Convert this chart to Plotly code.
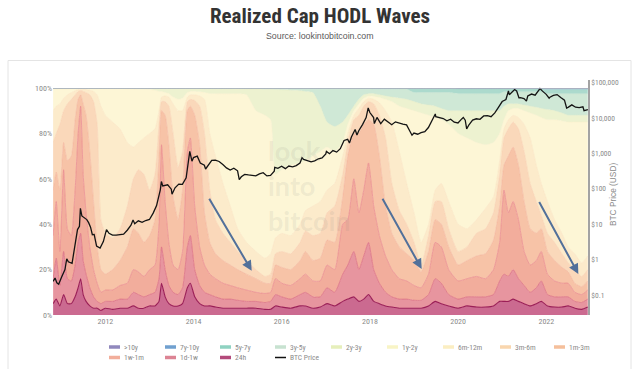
import plotly.graph_objects as go

# ---------------- data ----------------
dates = ["2010-10-25","2010-11-20","2010-12-20","2011-01-20","2011-02-20","2011-03-25","2011-04-25","2011-05-20","2011-06-10","2011-07-01","2011-07-25","2011-08-25","2011-09-25","2011-10-25","2011-11-25",
         "2012-01-01","2012-03-01","2012-05-01","2012-07-01","2012-08-20","2012-10-01","2012-11-15",
         "2013-01-01","2013-02-15","2013-03-20","2013-04-10","2013-05-10","2013-06-10","2013-07-15","2013-08-25","2013-10-01","2013-11-10","2013-12-05",
         "2014-01-10","2014-02-20","2014-04-01","2014-05-15","2014-07-01","2014-09-01","2014-11-01",
         "2015-01-01","2015-03-15","2015-06-01","2015-08-15","2015-10-01","2015-11-10",
         "2016-01-01","2016-03-15","2016-06-01","2016-07-15","2016-09-15","2016-11-15",
         "2017-01-10","2017-03-15","2017-05-20","2017-07-01","2017-08-20","2017-10-01","2017-11-10","2017-12-20",
         "2018-02-01","2018-03-20","2018-05-10","2018-07-01","2018-09-01","2018-11-01",
         "2019-01-01","2019-03-01","2019-05-01","2019-06-25","2019-08-15","2019-10-15",
         "2020-01-01","2020-03-15","2020-06-01","2020-08-15","2020-10-20","2020-12-10",
         "2021-01-15","2021-02-20","2021-04-01","2021-05-15","2021-07-01","2021-08-20","2021-10-10","2021-11-20",
         "2022-01-10","2022-03-10","2022-05-10","2022-07-01","2022-08-25","2022-10-20","2022-12-10"]

# cumulative share of realized cap (%) at the top of each age band
cum_24h = [5,7,4,9,5,5,8,12,16,9,6,4,3,3,2,
           3,2.5,3,3,4,3,3,
           4,4,6,14,8,5,4,4,5,12,14,
           8,5,4,4,3.5,3,3,
           3,3,3,2.5,2.5,4,
           3.5,3,4,4,3,3.5,
           5,4,6,7,8,6,7,9,
           6,5,4,3.5,3,3,
           3,3,4,6,5,4,
           3,4,3.5,3.5,4,6,
           6,6,7,6,5,4,5,6,
           4,3.5,3.5,4,3,2.5,3.5]
cum_1d_1w = [16,25,13,28,16,15,22,32,36,24,18,12,8,6,5,
             6,6,7,7,10,9,8,
             9,10,16,30,20,13,10,9,12,30,35,
             20,13,10,9,8,7,7,
             6.5,6,6,5.5,6,9,
             8,7,9,10,8,8,
             12,10,18,22,28,20,26,32,
             20,14,10,8,7,7,
             6.5,6.5,9,16,14,9,
             7,8,8,8,9,15,
             18,17,20,16,13,10,12,15,
             9,8,8,8,6,5.5,7]
cum_1w_1m = [35,50,28,64,38,35,55,80,92,62,45,30,20,14,10,
             11,11,13,14,20,19,17,
             20,22,40,75,50,32,22,20,28,72,78,
             48,30,22,18,16,14,13,
             12,11,10,9.5,10,16,
             14,13,16,18,15,15,
             22,20,40,42,60,45,55,67,
             48,35,26,20,16,15,
             13,12,18,32,30,20,
             15,16,17,16,20,32,
             55,45,50,42,28,22,24,28,
             18,15,14,14,10,9,11]
cum_1m_3m = [55,63,55,76,68,70,86,95,97,93,88,72,50,30,20,
             18,20,24,30,38,36,32,
             35,42,70,90,88,75,52,42,55,90,92,
             88,75,45,32,27,24,22,
             20,18,16,14,14,22,
             21,20,24,28,24,25,
             33,32,52,70,80,80,84,86,
             84,70,48,36,30,27,
             24,19,28,42,40,30,
             22,24,26,27,33,48,
             66,70,74,66,50,38,36,38,
             28,24,21,19,14,12.5,15]
cum_3m_6m = [76,80,84,90,93,95,97,98.5,99,98.5,98,97,94,84,42,
             36,34,38,48,60,64,62,
             55,62,84,94,94,92,80,65,72,94,95,
             94.5,92,80,55,42,36,32,
             28,24,20,17,18,27,
             28,27,32,37,35,36,
             45,48,62,76,86,88,92,94,
             93,88,78,58,46,40,
             32,22,35,50,50,38,
             28,30,36,38,45,62,
             78,82,85,82,72,58,50,44,
             36,32,27,23,20,17,20]
cum_6m_12m = [90,92,93,95.5,97,98,98.8,99.3,99.5,99.4,99.3,99,98.5,97,92,
              88,85,82,76,74,76,78,
              80,82,90,96,96.5,96,93,90,90,96,97,
              97,96.5,95,80,70,58,48,
              38,32,28,25,27,34,
              36,35,40,46,48,50,
              55,58,70,80,88,91,94,95.5,
              95,93.5,90,85,72,58,
              45,32,40,55,58,50,
              40,38,42,47,52,68,
              82,86,88,87,84,78,66,58,
              50,42,36,30,27,23,26]
cum_1y_2y = [99.7,99.7,99.7,99.7,99.7,99.8,99.8,99.8,99.8,99.8,99.8,99.8,99.8,99.8,99.8,
             99.8,99.8,99.8,99.7,99.6,99.5,99.4,
             99.3,99,98.5,98.5,98,97.5,96,95,95.5,98,98.5,
             98.5,98.3,98,97.5,97.5,97.5,97.5,
             97.5,97,90,88,86,62,
             64,66,67,68,70,72,
             74,72,76,84,90,93,95.5,96.5,
             96.3,95.8,95,94,92,91,
             90,89,88,87,86,84,
             80,78,76,75,76,80,
             86,90,91,91,90,89,88,87,
             86,86,85.5,85,85,85,85]
cum_2y_3y = [99.9,99.9,99.9,99.9,99.9,99.9,99.9,99.9,99.9,99.9,99.9,99.9,99.9,99.9,99.9,
             99.9,99.9,99.9,99.9,99.9,99.9,99.9,
             99.9,99.9,99.9,99.9,99.8,99.8,99.8,99.8,99.8,99.8,99.8,
             99.8,99.8,99.7,99.7,99.7,99.7,99.7,
             99.7,99.6,99.6,99.5,99.4,99.3,
             99.2,99,98.8,98.5,98,92,
             85,83,85,88,92,95,97,97.5,
             97.5,97,96.5,96,95.5,95,
             94,93,92.5,92,91,90,
             90,90,90,90,90,90,
             92,93,93,93,92.5,92,91.5,91,
             90.5,90,89,88,88,88,88]
cum_3y_5y = [100,100,100,100,100,100,100,100,100,100,100,100,100,100,100,
             100,100,100,100,100,100,100,
             100,100,100,100,100,100,100,100,100,100,100,
             100,100,100,100,100,100,100,
             100,100,100,100,100,99.8,
             99.8,99.8,99.8,99.8,99.8,99.8,
             99.8,99.8,99.8,99.8,99.8,99.8,99.8,99.8,
             99.5,99.5,99.5,99.5,99.5,99.5,
             98,98,98,98,98,98,
             97.5,97.5,97.5,97.5,97.5,97.5,
             98.3,98.3,98.3,98.3,98.3,98.3,98.3,98.3,
             97.5,97.5,97.5,97.5,97.5,97.5,97.5]
cum_5y_7y = [100,100,100,100,100,100,100,100,100,100,100,100,100,100,100,
             100,100,100,100,100,100,100,
             100,100,100,100,100,100,100,100,100,100,100,
             100,100,100,100,100,100,100,
             100,100,100,100,100,100,
             100,100,100,100,100,100,
             100,100,100,100,100,100,100,100,
             99.9,99.9,99.9,99.9,99.9,99.9,
             99.8,99.8,99.8,99.8,99.8,99.8,
             99.6,99.6,99.6,99.6,99.6,99.6,
             99.6,99.6,99.6,99.6,99.6,99.6,99.6,99.6,
             99.3,99.3,99.3,99.3,99.3,99.3,99.3]
cum_7y_10y = [100,100,100,100,100,100,100,100,100,100,100,100,100,100,100,
              100,100,100,100,100,100,100,
              100,100,100,100,100,100,100,100,100,100,100,
              100,100,100,100,100,100,100,
              100,100,100,100,100,100,
              100,100,100,100,100,100,
              100,100,100,100,100,100,100,100,
              100,100,100,100,100,100,
              100,100,100,100,100,100,
              99.95,99.95,99.95,99.95,99.95,99.95,
              99.9,99.9,99.9,99.9,99.9,99.9,99.9,99.9,
              99.8,99.8,99.8,99.8,99.8,99.8,99.8]
stack_total = [100.0 for _ in dates]   # >10y band closes the stack at 100 %

price_dates = ["2010-10-25","2010-11-10","2010-11-25","2010-12-10","2010-12-31",
    "2011-01-31","2011-02-15","2011-02-28","2011-03-31","2011-04-30","2011-05-15","2011-05-31","2011-06-08","2011-06-20","2011-06-30","2011-07-15","2011-07-31","2011-08-15","2011-08-31","2011-09-15","2011-09-30","2011-10-20","2011-11-18","2011-12-15","2011-12-31",
    "2012-01-10","2012-01-31","2012-02-29","2012-03-31","2012-04-30","2012-05-31","2012-06-30","2012-07-31","2012-08-17","2012-08-31","2012-09-30","2012-10-31","2012-11-30","2012-12-31",
    "2013-01-31","2013-02-28","2013-03-31","2013-04-09","2013-04-20","2013-05-31","2013-06-30","2013-07-06","2013-07-31","2013-08-31","2013-09-30","2013-10-31","2013-11-30","2013-12-18","2013-12-31",
    "2014-01-31","2014-02-25","2014-03-31","2014-04-10","2014-04-30","2014-05-31","2014-06-30","2014-07-31","2014-08-31","2014-09-30","2014-10-31","2014-11-30","2014-12-31",
    "2015-01-14","2015-01-31","2015-02-28","2015-03-31","2015-04-30","2015-05-31","2015-06-30","2015-07-31","2015-08-31","2015-09-30","2015-10-31","2015-11-04","2015-11-30","2015-12-31",
    "2016-01-31","2016-02-29","2016-03-31","2016-04-30","2016-05-31","2016-06-17","2016-06-30","2016-07-31","2016-08-31","2016-09-30","2016-10-31","2016-11-30","2016-12-31",
    "2017-01-05","2017-01-31","2017-02-28","2017-03-31","2017-04-30","2017-05-31","2017-06-30","2017-07-15","2017-07-31","2017-08-31","2017-09-15","2017-09-30","2017-10-31","2017-11-30","2017-12-17","2017-12-31",
    "2018-01-31","2018-02-06","2018-02-28","2018-03-31","2018-04-30","2018-05-31","2018-06-30","2018-07-31","2018-08-31","2018-09-30","2018-10-31","2018-11-30","2018-12-15","2018-12-31",
    "2019-01-31","2019-02-28","2019-03-31","2019-04-30","2019-05-31","2019-06-26","2019-06-30","2019-07-31","2019-08-31","2019-09-30","2019-10-31","2019-11-30","2019-12-31",
    "2020-01-31","2020-02-13","2020-02-29","2020-03-12","2020-03-31","2020-04-30","2020-05-31","2020-06-30","2020-07-31","2020-08-31","2020-09-30","2020-10-31","2020-11-30","2020-12-31",
    "2021-01-31","2021-02-21","2021-02-28","2021-03-31","2021-04-13","2021-04-30","2021-05-19","2021-05-31","2021-06-30","2021-07-20","2021-07-31","2021-08-31","2021-09-30","2021-10-31","2021-11-09","2021-11-30","2021-12-31",
    "2022-01-24","2022-01-31","2022-02-28","2022-03-31","2022-04-30","2022-05-31","2022-06-18","2022-06-30","2022-07-31","2022-08-31","2022-09-30","2022-10-31","2022-11-09","2022-11-30","2022-12-11"]
price_usd = [0.24,0.30,0.22,0.20,0.30,
    0.52,1.05,0.86,0.78,3.5,7.0,8.7,28,17,16,14,13.4,11,8.2,5.0,5.1,2.4,2.1,3.2,4.7,
    7.0,5.5,4.9,4.9,5.0,5.2,6.7,9.3,13,10.2,12.4,11.2,12.6,13.5,
    20.4,33.4,93,160,120,129,97,70,106,135,133,204,1130,600,755,
    830,530,458,360,447,628,640,586,479,387,338,378,320,
    180,217,254,244,236,230,263,284,230,236,314,400,377,430,
    368,437,416,448,531,750,673,624,575,609,700,742,964,
    1130,970,1190,1080,1350,2300,2480,1950,2875,4700,3300,4340,6470,10200,19100,14150,
    10200,6900,10300,6920,9240,7500,6400,7730,7030,6630,6320,4020,3250,3740,
    3460,3850,4100,5350,8570,12900,10800,10100,9600,8300,9200,7570,7200,
    9350,10300,8600,4900,6400,8630,9450,9140,11350,11650,10780,13800,19700,29000,
    33100,57500,45200,58800,63500,57700,37000,37300,35000,29800,41500,47100,43800,61300,67500,57000,46300,
    36000,38500,43200,45500,37700,31800,19000,19800,23300,20050,19400,20500,16000,17200,17100]
assert len(price_dates) == len(price_usd)

band_names = ["24h","1d-1w","1w-1m","1m-3m","3m-6m","6m-12m","1y-2y","2y-3y","3y-5y","5y-7y","7y-10y",">10y"]
band_tops = [cum_24h, cum_1d_1w, cum_1w_1m, cum_1m_3m, cum_3m_6m, cum_6m_12m, cum_1y_2y,
             cum_2y_3y, cum_3y_5y, cum_5y_7y, cum_7y_10y, stack_total]
for arr in band_tops:
    assert len(arr) == len(dates)

price_ticks = [0.1, 1, 10, 100, 1000, 10000, 100000]
price_tick_text = ["$0.1", "$1", "$10", "$100", "$1,000", "$10,000", "$100,000"]
pct_ticks = [0, 20, 40, 60, 80, 100]
pct_tick_text = ["0%", "20%", "40%", "60%", "80%", "100%"]

# ---------------- styling ----------------
fill_col = {"24h":"#cb6a90","1d-1w":"#e7959f","1w-1m":"#f2ad9c","1m-3m":"#f7c3a7","3m-6m":"#fad8ba",
            "6m-12m":"#fcebcb","1y-2y":"#fdf6d6","2y-3y":"#edf2d0","3y-5y":"#cfe8d6","5y-7y":"#acdacd",
            "7y-10y":"#93b8da",">10y":"#a9a0cf"}
line_col = {"24h":"#9b1f57","1d-1w":"#d8677e","1w-1m":"#e8878c","1m-3m":"#f1ad95","3m-6m":"#f6caaa",
            "6m-12m":"#f9e0bd","1y-2y":"#f8efca","2y-3y":"#e2ebc5","3y-5y":"#c2e0cd","5y-7y":"#9ed1c4",
            "7y-10y":"#86acd2",">10y":"#a9a0cf"}
line_w = {"24h":1.1,"1d-1w":0.7,"1w-1m":0.7}
legend_col = {">10y":"#9088bd","7y-10y":"#70a0cf","5y-7y":"#8fd2c1","3y-5y":"#c7e2d0","2y-3y":"#e6efbb",
              "1y-2y":"#f8f4c6","6m-12m":"#fbeec2","3m-6m":"#f9d6ae","1m-3m":"#f5bf9b","1w-1m":"#f2ae9b",
              "1d-1w":"#dc8494","24h":"#b34a7b"}

NARROW = "Liberation Sans Narrow, Arial Narrow, Roboto Condensed, DejaVu Sans Condensed, sans-serif"
TICK_GRAY = "#8a8a8a"

fig = go.Figure()
for i, (name, top) in enumerate(zip(band_names, band_tops)):
    fig.add_trace(go.Scatter(
        x=dates, y=top, name=name, mode="lines",
        line=dict(color=line_col[name], width=line_w.get(name, 0.5), shape="spline", smoothing=0.5),
        fill="tozeroy" if i == 0 else "tonexty", fillcolor=fill_col[name],
        showlegend=False, hoverinfo="skip"))

fig.add_trace(go.Scatter(x=price_dates, y=price_usd, name="BTC Price", mode="lines",
                         line=dict(color="#141414", width=1.3), yaxis="y2", showlegend=False))

W, H = 640, 369
PLOT_L, PLOT_R, PLOT_T, PLOT_B = 53, 588, 80, 315      # plot box in pixels
L, T, R, B = PLOT_L, PLOT_T, W - PLOT_R, H - PLOT_B
PW, PH = PLOT_R - PLOT_L, PLOT_B - PLOT_T
def pxx(px): return (px - PLOT_L) / PW
def pxy(py): return (PLOT_B - py) / PH

fig.update_layout(
    width=W, height=H, template="none",
    paper_bgcolor="white", plot_bgcolor="rgba(0,0,0,0)",
    margin=dict(l=L, r=R, t=T, b=B, pad=0),
    showlegend=False,
    title=dict(text="<b>Realized Cap HODL Waves</b>", x=0.5, xanchor="center", xref="container",
               y=1 - 15.5 / H, yanchor="middle", yref="container",
               font=dict(family=NARROW, size=21, color="#333333")),
    xaxis=dict(type="date", range=["2010-10-24", "2022-12-12"], tick0="2012-01-01", dtick="M24",
               tickformat="%Y", showgrid=False, zeroline=False, showline=False, ticks="",
               tickfont=dict(family=NARROW, size=8, color=TICK_GRAY), anchor="y"),
    yaxis=dict(domain=[0, (PLOT_B - 88) / PH], range=[0, 100], tickvals=pct_ticks, ticktext=pct_tick_text,
               showgrid=False, zeroline=False, showline=False, ticks="",
               tickfont=dict(family=NARROW, size=8, color=TICK_GRAY)),
    yaxis2=dict(domain=[0, 1], anchor="x", side="right", type="log", range=[-1.568, 5.0706],
                tickvals=price_ticks, ticktext=price_tick_text, showgrid=False, zeroline=False,
                showline=True, linecolor="#a3a3a3", linewidth=1.5, ticks="",
                tickfont=dict(family=NARROW, size=7.5, color=TICK_GRAY)),
)

shapes = [
    # card frame
    dict(type="rect", xref="paper", yref="paper", x0=pxx(8), x1=pxx(631), y0=pxy(380), y1=pxy(60.5),
         line=dict(color="#e4e4e4", width=1), fillcolor="rgba(0,0,0,0)", layer="below"),
    # top border of the stacked area
    dict(type="line", xref="x domain", yref="y", x0=0, x1=1, y0=100, y1=100,
         line=dict(color="#adb2ba", width=1.5)),
]
annotations = [
    dict(text="Source: lookintobitcoin.com", xref="paper", yref="paper", x=pxx(320), y=pxy(36),
         showarrow=False, font=dict(family="Liberation Sans, Arial", size=8.8, color="#5a5a5a"),
         xanchor="center", yanchor="middle"),
    dict(text="BTC Price (USD)", xref="paper", yref="paper", x=pxx(613), y=pxy(195), textangle=-90,
         showarrow=False, font=dict(family="Liberation Sans, Arial", size=8.3, color=TICK_GRAY),
         xanchor="center", yanchor="middle"),
    # watermark
    dict(text="<b>look<br>into<br>bitcoin</b>", xref="paper", yref="paper", x=pxx(266), y=pxy(132),
         xanchor="left", yanchor="top", align="left", showarrow=False,
         font=dict(family="Lato, Roboto, sans-serif", size=27, color="rgba(120,120,120,0.11)")),
]
# trend arrows (head at x/y, tail at ax/ay)
for tail_d, tail_v, head_d, head_v in [("2014-05-03", 51.9, "2015-04-27", 19.5),
                                      ("2018-04-08", 51.9, "2019-03-05", 20.3),
                                      ("2021-10-27", 50.4, "2022-09-23", 18.1)]:
    annotations.append(dict(x=head_d, y=head_v, ax=tail_d, ay=tail_v, xref="x", yref="y",
                            axref="x", ayref="y", text="", showarrow=True, arrowhead=2,
                            arrowsize=1, arrowwidth=2, arrowcolor="#52709a"))

# legend (drawn as swatches + text)
legend_rows = [([">10y","7y-10y","5y-7y","3y-5y","2y-3y","1y-2y","6m-12m","3m-6m","1m-3m"], 347),
               (["1w-1m","1d-1w","24h","BTC Price"], 357.5)]
legend_x = [109, 165, 220, 275, 331, 387, 443, 500, 554]
for names, py in legend_rows:
    for name, px in zip(names, legend_x):
        col = "#111111" if name == "BTC Price" else legend_col[name]
        wid = 1.5 if name == "BTC Price" else 3.5
        shapes.append(dict(type="line", xref="paper", yref="paper", x0=pxx(px), x1=pxx(px + 11),
                           y0=pxy(py), y1=pxy(py), line=dict(color=col, width=wid)))
        annotations.append(dict(text=name, xref="paper", yref="paper", x=pxx(px + 13), y=pxy(py),
                                xanchor="left", yanchor="middle", showarrow=False,
                                font=dict(family=NARROW, size=7.5, color="#8a8a8a")))

fig.update_layout(shapes=shapes, annotations=annotations)
# remove the default 8px page margin so the figure sits at the window's top-left corner
fig.write_html("out.html", config={"displayModeBar": False},
               post_script="document.body.style.margin='0';document.body.style.overflow='hidden';")
